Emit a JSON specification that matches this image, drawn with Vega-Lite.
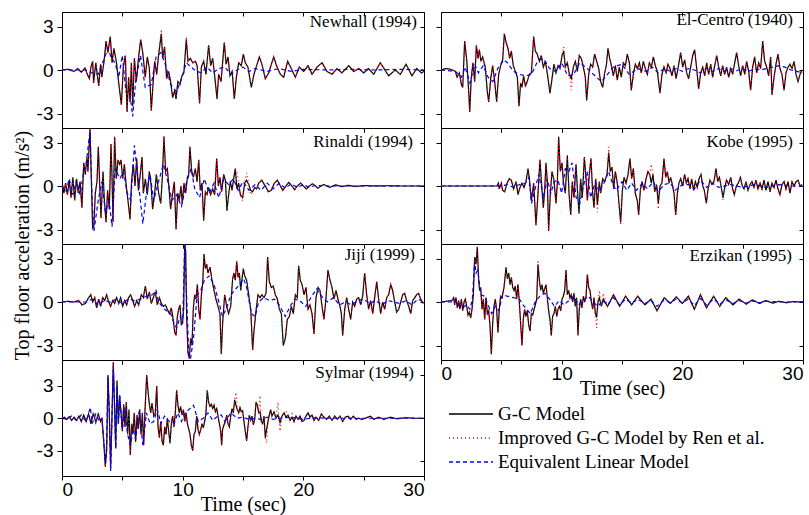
{
"$schema":"https://vega.github.io/schema/vega-lite/v6.json",
"padding":{"left":11,"top":10,"right":0,"bottom":0},
"background":"white",
"bounds":"flush",
"columns":2,
"spacing":{"row":0,"column":17},
"datasets":{
"nh":[{"t":0,"g":0,"r":0},{"t":0.5,"g":0.05,"r":0.05},{"t":1,"g":-0.1,"r":-0.1},{"t":1.3,"g":0.1,"r":0.1},{"t":1.6,"g":-0.15,"r":-0.15},{"t":1.9,"g":0.15,"r":0.15},{"t":2.1,"g":-0.3,"r":-0.3},{"t":2.27,"g":-0.6,"r":-0.6},{"t":2.4,"g":0.2,"r":0.2},{"t":2.54,"g":0.6,"r":0.6},{"t":2.62,"g":-0.9,"r":-0.9},{"t":2.8,"g":0.5,"r":0.5},{"t":3.04,"g":-1.1,"r":-1.1},{"t":3.2,"g":0.4,"r":0.4},{"t":3.3,"g":-0.5,"r":-0.5},{"t":3.5,"g":0.7,"r":0.7},{"t":3.65,"g":2,"r":2},{"t":3.8,"g":1.2,"r":1.2},{"t":4,"g":2.3,"r":2.3},{"t":4.15,"g":0.5,"r":0.5},{"t":4.3,"g":1.5,"r":1.5},{"t":4.5,"g":0.6,"r":0.6},{"t":4.7,"g":-0.9,"r":-0.9},{"t":4.92,"g":-2.4,"r":-2.4},{"t":5.08,"g":0.2,"r":0.2},{"t":5.25,"g":1,"r":1},{"t":5.39,"g":-2.9,"r":-2.9},{"t":5.52,"g":-0.5,"r":-0.5},{"t":5.64,"g":-2.2,"r":-2.2},{"t":5.75,"g":0.5,"r":0.5},{"t":5.86,"g":-2.5,"r":-2.5},{"t":6,"g":0.8,"r":0.8},{"t":6.16,"g":-0.8,"r":-0.8},{"t":6.35,"g":0.9,"r":0.9},{"t":6.52,"g":2.1,"r":2.1},{"t":6.69,"g":1.2,"r":1.2},{"t":6.9,"g":-0.5,"r":-0.5},{"t":7.07,"g":0.9,"r":0.9},{"t":7.24,"g":0.1,"r":0.1},{"t":7.4,"g":-2.8,"r":-2.8},{"t":7.54,"g":-1,"r":-1},{"t":7.68,"g":0.6,"r":0.6},{"t":7.85,"g":-0.3,"r":-0.3},{"t":8,"g":1,"r":1},{"t":8.23,"g":2.5,"r":2.8},{"t":8.34,"g":0.8,"r":0.8},{"t":8.5,"g":1.6,"r":1.6},{"t":8.67,"g":-0.6,"r":-0.6},{"t":8.84,"g":-0.1,"r":-0.1},{"t":9,"g":-0.8,"r":-0.8},{"t":9.17,"g":-1.9,"r":-1.9},{"t":9.34,"g":-1.4,"r":-1.4},{"t":9.45,"g":-2,"r":-2},{"t":9.6,"g":-0.8,"r":-0.8},{"t":9.78,"g":-1,"r":-1},{"t":9.94,"g":-0.4,"r":-0.4},{"t":10.1,"g":-0.2,"r":-0.2},{"t":10.3,"g":2.1,"r":2.3},{"t":10.44,"g":0.6,"r":0.6},{"t":10.64,"g":0.8,"r":0.8},{"t":10.83,"g":0.5,"r":0.5},{"t":11.05,"g":0.6,"r":0.6},{"t":11.2,"g":0.3,"r":0.3},{"t":11.4,"g":-2.3,"r":-2.3},{"t":11.55,"g":0.2,"r":0.2},{"t":11.74,"g":0.6,"r":0.6},{"t":11.93,"g":-0.3,"r":-0.3},{"t":12.15,"g":1.7,"r":1.7},{"t":12.32,"g":0.3,"r":0.3},{"t":12.49,"g":0.8,"r":0.8},{"t":12.65,"g":-0.4,"r":-0.4},{"t":12.85,"g":-2,"r":-2},{"t":12.98,"g":-0.3,"r":-0.3},{"t":13.18,"g":-0.8,"r":-0.8},{"t":13.45,"g":1.9,"r":1.9},{"t":13.6,"g":0.4,"r":0.4},{"t":13.76,"g":0.9,"r":0.9},{"t":13.92,"g":-0.4,"r":-0.4},{"t":14.1,"g":-0.1,"r":-0.1},{"t":14.28,"g":-2,"r":-2},{"t":14.45,"g":-0.5,"r":-0.5},{"t":14.64,"g":0.5,"r":0.5},{"t":14.86,"g":0.3,"r":0.3},{"t":15.03,"g":1.1,"r":1.1},{"t":15.19,"g":0.5,"r":0.5},{"t":15.41,"g":0.2,"r":0.2},{"t":15.69,"g":-1.2,"r":-1.2},{"t":15.91,"g":-0.3,"r":-0.3},{"t":16.13,"g":0.3,"r":0.3},{"t":16.35,"g":0.9,"r":0.9},{"t":16.57,"g":0.4,"r":0.4},{"t":16.85,"g":-0.6,"r":-0.6},{"t":17.13,"g":-0.2,"r":-0.2},{"t":17.54,"g":0.9,"r":0.9},{"t":17.82,"g":0.2,"r":0.2},{"t":18.1,"g":-0.3,"r":-0.3},{"t":18.37,"g":-0.5,"r":-0.5},{"t":18.7,"g":0.6,"r":0.6},{"t":19,"g":0.1,"r":0.1},{"t":19.34,"g":-0.5,"r":-0.5},{"t":19.67,"g":0.2,"r":0.2},{"t":20.03,"g":-0.1,"r":-0.1},{"t":20.39,"g":0.3,"r":0.3},{"t":20.72,"g":-0.3,"r":-0.3},{"t":21.13,"g":0.2,"r":0.2},{"t":21.55,"g":0.5,"r":0.5},{"t":21.96,"g":-0.1,"r":-0.1},{"t":22.38,"g":-0.3,"r":-0.3},{"t":22.79,"g":0.1,"r":0.1},{"t":23.2,"g":-0.2,"r":-0.2},{"t":23.76,"g":0.3,"r":0.3},{"t":24.17,"g":-0.1,"r":-0.1},{"t":24.59,"g":0.1,"r":0.1},{"t":25,"g":-0.2,"r":-0.2},{"t":25.4,"g":0.1,"r":0.1},{"t":25.83,"g":-0.3,"r":-0.3},{"t":26.38,"g":0.5,"r":0.5},{"t":27.07,"g":-0.4,"r":-0.4},{"t":27.62,"g":0,"r":0},{"t":28.04,"g":-0.3,"r":-0.3},{"t":28.51,"g":0.4,"r":0.4},{"t":29,"g":-0.4,"r":-0.4},{"t":29.4,"g":0.1,"r":0.1},{"t":29.78,"g":-0.2,"r":-0.2},{"t":30,"g":-0.1,"r":-0.1},
{"t":0,"e":0},{"t":2,"e":0},{"t":2.5,"e":-0.2},{"t":3,"e":-0.3},{"t":3.5,"e":0.8},{"t":3.8,"e":1.5},{"t":4.1,"e":0.8},{"t":4.4,"e":0.5},{"t":4.7,"e":-0.5},{"t":5,"e":1},{"t":5.3,"e":-1.5},{"t":5.6,"e":-1.5},{"t":5.86,"e":-3.2},{"t":6.1,"e":-0.8},{"t":6.5,"e":1},{"t":6.9,"e":-1.2},{"t":7.4,"e":-1},{"t":7.8,"e":0.9},{"t":8.2,"e":1.2},{"t":8.6,"e":0.3},{"t":9,"e":-1},{"t":9.5,"e":-1.5},{"t":9.9,"e":-0.6},{"t":10.3,"e":0.5},{"t":10.7,"e":0.2},{"t":11,"e":0},{"t":11.5,"e":-0.2},{"t":12,"e":0.2},{"t":12.5,"e":-0.2},{"t":13,"e":0.1},{"t":13.5,"e":0.2},{"t":14,"e":-0.3},{"t":14.5,"e":0},{"t":15,"e":0.2},{"t":15.5,"e":-0.1},{"t":16,"e":0.1},{"t":17,"e":-0.1},{"t":18,"e":0.1},{"t":19,"e":-0.1},{"t":20,"e":0.05},{"t":22,"e":0},{"t":24,"e":0.05},{"t":26,"e":0},{"t":28,"e":0.05},{"t":30,"e":0}],
"ec":[{"t":0,"g":0,"r":0},{"t":0.4,"g":0.1,"r":0.1},{"t":0.8,"g":0.05,"r":0.05},{"t":1.19,"g":-0.1,"r":-0.1},{"t":1.33,"g":-0.5,"r":-0.5},{"t":1.52,"g":-0.2,"r":-0.2},{"t":1.69,"g":-1,"r":-1},{"t":1.8,"g":-1.2,"r":-1.2},{"t":1.96,"g":2,"r":2},{"t":2.13,"g":0.7,"r":0.7},{"t":2.29,"g":-1.4,"r":-1.4},{"t":2.38,"g":-2.9,"r":-2.9},{"t":2.51,"g":-0.5,"r":-0.5},{"t":2.65,"g":0.5,"r":0.5},{"t":2.79,"g":-0.8,"r":-0.8},{"t":2.93,"g":1.7,"r":1.7},{"t":3.07,"g":0.8,"r":0.8},{"t":3.18,"g":1.4,"r":1.4},{"t":3.31,"g":0.6,"r":0.6},{"t":3.45,"g":0.9,"r":0.9},{"t":3.67,"g":0.2,"r":0.2},{"t":3.84,"g":-1.5,"r":-1.5},{"t":3.95,"g":-2.2,"r":-2.2},{"t":4.12,"g":-0.6,"r":-0.6},{"t":4.28,"g":0.3,"r":0.3},{"t":4.45,"g":-0.8,"r":-0.8},{"t":4.61,"g":-2.2,"r":-2.2},{"t":4.78,"g":-0.3,"r":-0.3},{"t":4.94,"g":0.3,"r":0.3},{"t":5.11,"g":0.7,"r":0.7},{"t":5.25,"g":2.5,"r":2.5},{"t":5.39,"g":1.9,"r":1.9},{"t":5.55,"g":1.5,"r":1.5},{"t":5.69,"g":0.8,"r":0.8},{"t":5.83,"g":1.3,"r":1.3},{"t":5.99,"g":0.3,"r":0.3},{"t":6.16,"g":-0.1,"r":-0.1},{"t":6.33,"g":-0.5,"r":-0.5},{"t":6.46,"g":-2.5,"r":-2.5},{"t":6.6,"g":-0.9,"r":-0.9},{"t":6.71,"g":-1.2,"r":-1.2},{"t":6.85,"g":-0.4,"r":-0.4},{"t":6.99,"g":-1.1,"r":-1.1},{"t":7.15,"g":-0.8,"r":-0.8},{"t":7.32,"g":-0.3,"r":-0.3},{"t":7.49,"g":-0.2,"r":-0.2},{"t":7.68,"g":2.3,"r":2.3},{"t":7.82,"g":1.3,"r":1.3},{"t":7.98,"g":1.1,"r":1.1},{"t":8.15,"g":0.6,"r":0.6},{"t":8.31,"g":1,"r":1},{"t":8.48,"g":0.2,"r":0.2},{"t":8.65,"g":0.6,"r":0.6},{"t":8.84,"g":-0.4,"r":-0.4},{"t":9.03,"g":-1.6,"r":-1.6},{"t":9.2,"g":-0.6,"r":-0.6},{"t":9.36,"g":0.4,"r":0.4},{"t":9.53,"g":-0.2,"r":-0.2},{"t":9.7,"g":0.3,"r":0.3},{"t":9.86,"g":0.1,"r":0.1},{"t":10.03,"g":1,"r":1},{"t":10.17,"g":1.3,"r":1.6},{"t":10.3,"g":0.2,"r":0.2},{"t":10.47,"g":0.5,"r":0.5},{"t":10.64,"g":-0.3,"r":-0.3},{"t":10.8,"g":-0.6,"r":-1.4},{"t":10.97,"g":0.2,"r":0.2},{"t":11.13,"g":0.6,"r":0.6},{"t":11.3,"g":-0.1,"r":-0.1},{"t":11.46,"g":1,"r":1},{"t":11.63,"g":0.8,"r":0.8},{"t":11.8,"g":0.2,"r":0.2},{"t":11.96,"g":-0.5,"r":-0.5},{"t":12.07,"g":-2.1,"r":-2.1},{"t":12.24,"g":-0.3,"r":-0.3},{"t":12.4,"g":0.4,"r":0.4},{"t":12.57,"g":0.2,"r":0.2},{"t":12.73,"g":1.1,"r":1.1},{"t":12.9,"g":0.6,"r":0.6},{"t":13.07,"g":0.1,"r":0.1},{"t":13.23,"g":-0.8,"r":-0.8},{"t":13.4,"g":-1.2,"r":-1.2},{"t":13.56,"g":-0.2,"r":-0.2},{"t":13.7,"g":0.3,"r":0.3},{"t":13.84,"g":1.5,"r":1.5},{"t":13.98,"g":0.8,"r":0.8},{"t":14.12,"g":0.3,"r":0.3},{"t":14.28,"g":-0.4,"r":-0.4},{"t":14.45,"g":0.3,"r":0.3},{"t":14.61,"g":-0.7,"r":-0.7},{"t":14.78,"g":0.2,"r":0.2},{"t":14.94,"g":-0.5,"r":-0.5},{"t":15.11,"g":0.5,"r":0.5},{"t":15.28,"g":0.3,"r":0.3},{"t":15.44,"g":1.1,"r":1.1},{"t":15.61,"g":0.5,"r":0.5},{"t":15.77,"g":-1.4,"r":-1.4},{"t":15.94,"g":-0.3,"r":-0.3},{"t":16.1,"g":0.4,"r":0.4},{"t":16.27,"g":0.1,"r":0.1},{"t":16.44,"g":0.5,"r":0.5},{"t":16.6,"g":-0.2,"r":-0.2},{"t":16.77,"g":0.6,"r":0.6},{"t":16.93,"g":0.1,"r":0.1},{"t":17.1,"g":-0.3,"r":-0.3},{"t":17.27,"g":0.5,"r":0.5},{"t":17.43,"g":0.2,"r":0.2},{"t":17.6,"g":0.9,"r":0.9},{"t":17.76,"g":0.3,"r":0.3},{"t":17.93,"g":-0.1,"r":-0.1},{"t":18.15,"g":-1.6,"r":-1.6},{"t":18.31,"g":-0.3,"r":-0.3},{"t":18.48,"g":0.2,"r":0.2},{"t":18.65,"g":-0.2,"r":-0.2},{"t":18.81,"g":0.4,"r":0.4},{"t":18.98,"g":0.1,"r":0.1},{"t":19.14,"g":-0.4,"r":-0.4},{"t":19.31,"g":0.3,"r":0.3},{"t":19.48,"g":-0.6,"r":-0.6},{"t":19.64,"g":0.1,"r":0.1},{"t":19.86,"g":1.2,"r":1.2},{"t":20.03,"g":0.2,"r":0.2},{"t":20.19,"g":0.7,"r":0.7},{"t":20.36,"g":-0.2,"r":-0.2},{"t":20.52,"g":-0.6,"r":-0.6},{"t":20.69,"g":0.2,"r":0.2},{"t":20.86,"g":1,"r":1},{"t":21.02,"g":1.4,"r":1.4},{"t":21.19,"g":0.1,"r":0.1},{"t":21.35,"g":-1.3,"r":-1.3},{"t":21.52,"g":-0.2,"r":-0.2},{"t":21.69,"g":0.2,"r":0.2},{"t":21.85,"g":-0.4,"r":-0.4},{"t":22.02,"g":0.5,"r":0.5},{"t":22.18,"g":-0.3,"r":-0.3},{"t":22.35,"g":0.4,"r":0.4},{"t":22.51,"g":-0.5,"r":-0.5},{"t":22.68,"g":0.3,"r":0.3},{"t":22.85,"g":1,"r":1},{"t":23.01,"g":0.2,"r":0.2},{"t":23.18,"g":-0.4,"r":-0.4},{"t":23.34,"g":0.3,"r":0.3},{"t":23.51,"g":-0.3,"r":-0.3},{"t":23.67,"g":0.2,"r":0.2},{"t":23.84,"g":-0.5,"r":-0.5},{"t":24.01,"g":0.1,"r":0.1},{"t":24.17,"g":-0.3,"r":-0.3},{"t":24.34,"g":0.5,"r":0.5},{"t":24.5,"g":1.2,"r":1.2},{"t":24.67,"g":0.3,"r":0.3},{"t":24.83,"g":-0.4,"r":-0.4},{"t":25,"g":0.3,"r":0.3},{"t":25.17,"g":-0.3,"r":-0.3},{"t":25.33,"g":0.6,"r":0.6},{"t":25.5,"g":-0.1,"r":-0.1},{"t":25.66,"g":-1.4,"r":-1.4},{"t":25.83,"g":0.2,"r":0.2},{"t":25.99,"g":0.9,"r":0.9},{"t":26.16,"g":-0.2,"r":-0.2},{"t":26.33,"g":0.5,"r":0.5},{"t":26.49,"g":0.1,"r":0.1},{"t":26.66,"g":2,"r":2},{"t":26.82,"g":0.6,"r":0.6},{"t":26.99,"g":0.2,"r":0.2},{"t":27.15,"g":-0.4,"r":-0.4},{"t":27.32,"g":0.9,"r":0.9},{"t":27.43,"g":-1.7,"r":-1.7},{"t":27.6,"g":-0.5,"r":-0.5},{"t":27.76,"g":0.4,"r":0.4},{"t":27.93,"g":1.1,"r":1.1},{"t":28.09,"g":0.1,"r":0.1},{"t":28.26,"g":-0.3,"r":-0.3},{"t":28.43,"g":-1.4,"r":-1.4},{"t":28.59,"g":-0.2,"r":-0.2},{"t":28.76,"g":0.2,"r":0.2},{"t":28.92,"g":0.4,"r":0.4},{"t":29.09,"g":0.1,"r":0.1},{"t":29.26,"g":0.6,"r":0.6},{"t":29.42,"g":-0.3,"r":-0.3},{"t":29.59,"g":-0.8,"r":-0.8},{"t":29.75,"g":-0.3,"r":-0.3},{"t":29.92,"g":0,"r":0},
{"t":0,"e":0},{"t":1.2,"e":-0.1},{"t":1.7,"e":-0.5},{"t":2,"e":0.2},{"t":2.4,"e":-0.9},{"t":2.8,"e":0.4},{"t":3.1,"e":-0.2},{"t":3.5,"e":0.3},{"t":3.9,"e":-0.5},{"t":4.3,"e":-0.8},{"t":4.7,"e":0.1},{"t":5.2,"e":0.7},{"t":5.5,"e":0.5},{"t":6,"e":-0.1},{"t":6.5,"e":-0.3},{"t":7,"e":-0.4},{"t":7.5,"e":-0.3},{"t":8,"e":0.6},{"t":8.5,"e":0.8},{"t":9,"e":0.1},{"t":9.5,"e":-0.1},{"t":10,"e":0.5},{"t":10.5,"e":-0.4},{"t":11,"e":-0.3},{"t":11.5,"e":0.5},{"t":12,"e":0.2},{"t":12.5,"e":-0.2},{"t":13.3,"e":-0.8},{"t":13.8,"e":-0.3},{"t":14.3,"e":0.2},{"t":15,"e":0.4},{"t":15.6,"e":-0.3},{"t":16.3,"e":0.1},{"t":17,"e":-0.1},{"t":17.5,"e":0.2},{"t":18,"e":-0.2},{"t":18.5,"e":0.1},{"t":19,"e":-0.1},{"t":19.5,"e":0.1},{"t":20,"e":-0.1},{"t":20.5,"e":0.1},{"t":21,"e":0},{"t":21.5,"e":-0.2},{"t":22,"e":0.1},{"t":22.5,"e":-0.1},{"t":23,"e":0.1},{"t":23.5,"e":-0.1},{"t":24,"e":0.1},{"t":24.5,"e":-0.05},{"t":25,"e":0.1},{"t":25.5,"e":-0.1},{"t":26,"e":0.1},{"t":26.5,"e":0},{"t":27,"e":0.1},{"t":27.5,"e":0.2},{"t":28,"e":0.3},{"t":28.5,"e":0.2},{"t":29,"e":0},{"t":29.5,"e":-0.1},{"t":30,"e":-0.2}],
"ri":[{"t":0,"g":0.3,"r":0.3},{"t":0.15,"g":-0.5,"r":-0.5},{"t":0.3,"g":0.2,"r":0.2},{"t":0.45,"g":-0.6,"r":-0.6},{"t":0.6,"g":0.4,"r":0.4},{"t":0.75,"g":-0.8,"r":-0.8},{"t":0.9,"g":0.6,"r":0.6},{"t":1.05,"g":-1,"r":-1},{"t":1.2,"g":0.5,"r":0.5},{"t":1.35,"g":-0.5,"r":-0.5},{"t":1.5,"g":0.3,"r":0.3},{"t":1.65,"g":-1.5,"r":-1.5},{"t":1.8,"g":1.6,"r":1.6},{"t":1.93,"g":0.8,"r":0.8},{"t":2.07,"g":2,"r":2},{"t":2.15,"g":1,"r":1},{"t":2.32,"g":4,"r":4},{"t":2.43,"g":0.5,"r":0.5},{"t":2.54,"g":-3,"r":-3},{"t":2.65,"g":-2.6,"r":-2.6},{"t":2.76,"g":-0.5,"r":-0.5},{"t":2.9,"g":0.3,"r":0.3},{"t":3.01,"g":2.7,"r":2.7},{"t":3.15,"g":-0.5,"r":-0.5},{"t":3.23,"g":-2.2,"r":-2.2},{"t":3.4,"g":1,"r":1},{"t":3.51,"g":-1,"r":-1},{"t":3.65,"g":-2.5,"r":-2.5},{"t":3.78,"g":-0.3,"r":-0.3},{"t":3.92,"g":-1.6,"r":-1.6},{"t":4.06,"g":2.9,"r":2.9},{"t":4.14,"g":0.8,"r":0.8},{"t":4.23,"g":-2.5,"r":-2.5},{"t":4.36,"g":3.4,"r":3.4},{"t":4.5,"g":0.5,"r":0.5},{"t":4.64,"g":1.8,"r":1.8},{"t":4.78,"g":1.5,"r":1.5},{"t":4.89,"g":1.8,"r":1.8},{"t":5.03,"g":0.5,"r":0.5},{"t":5.17,"g":1.5,"r":1.5},{"t":5.3,"g":0.2,"r":0.2},{"t":5.44,"g":-0.8,"r":-0.8},{"t":5.64,"g":-2.3,"r":-2.3},{"t":5.77,"g":0.4,"r":0.4},{"t":5.91,"g":1.5,"r":1.5},{"t":6.05,"g":0,"r":0},{"t":6.19,"g":1.9,"r":1.9},{"t":6.33,"g":-0.3,"r":-0.3},{"t":6.46,"g":0.6,"r":0.6},{"t":6.63,"g":2,"r":2},{"t":6.74,"g":-0.5,"r":-0.5},{"t":6.91,"g":0.5,"r":0.5},{"t":7.07,"g":-0.6,"r":-0.6},{"t":7.24,"g":1,"r":1},{"t":7.38,"g":0.1,"r":0.1},{"t":7.51,"g":-1.6,"r":-1.6},{"t":7.68,"g":-0.5,"r":-0.5},{"t":7.82,"g":0.8,"r":0.8},{"t":8.01,"g":-0.5,"r":-0.5},{"t":8.18,"g":-1.2,"r":-1.2},{"t":8.31,"g":0.5,"r":0.5},{"t":8.45,"g":3.4,"r":3.5},{"t":8.59,"g":1,"r":1},{"t":8.73,"g":1.2,"r":1.2},{"t":8.9,"g":-0.5,"r":-0.5},{"t":9,"g":-1.6,"r":-1.6},{"t":9.17,"g":-0.5,"r":-0.5},{"t":9.31,"g":0.3,"r":0.3},{"t":9.45,"g":-3,"r":-3},{"t":9.59,"g":-0.5,"r":-0.5},{"t":9.72,"g":-1,"r":-1},{"t":9.86,"g":0,"r":0},{"t":9.97,"g":-1.2,"r":-1.2},{"t":10.11,"g":0.2,"r":0.2},{"t":10.25,"g":-0.5,"r":-0.5},{"t":10.39,"g":0.6,"r":0.6},{"t":10.5,"g":0.8,"r":0.8},{"t":10.6,"g":2.7,"r":2.7},{"t":10.75,"g":1,"r":1},{"t":10.88,"g":0.6,"r":0.6},{"t":11.05,"g":1.2,"r":1.2},{"t":11.19,"g":0.3,"r":0.3},{"t":11.33,"g":1.8,"r":1.8},{"t":11.46,"g":-0.3,"r":-0.3},{"t":11.6,"g":0.2,"r":0.2},{"t":11.74,"g":-2.4,"r":-2.4},{"t":11.88,"g":-0.4,"r":-0.4},{"t":12.02,"g":-0.6,"r":-0.6},{"t":12.15,"g":-0.1,"r":-0.1},{"t":12.32,"g":-0.6,"r":-0.6},{"t":12.49,"g":-0.2,"r":-0.2},{"t":12.65,"g":-0.6,"r":-0.6},{"t":12.82,"g":1.9,"r":1.9},{"t":12.96,"g":0,"r":0},{"t":13.09,"g":0.6,"r":0.6},{"t":13.23,"g":-0.4,"r":-0.4},{"t":13.4,"g":0.8,"r":0.8},{"t":13.54,"g":0.4,"r":0.4},{"t":13.67,"g":-1.7,"r":-1.7},{"t":13.81,"g":-0.6,"r":-0.6},{"t":13.95,"g":0.3,"r":0.3},{"t":14.09,"g":-0.3,"r":-0.3},{"t":14.23,"g":0.5,"r":0.5},{"t":14.36,"g":1.2,"r":1.2},{"t":14.5,"g":-0.2,"r":1},{"t":14.64,"g":0.2,"r":0.2},{"t":14.78,"g":-0.6,"r":-0.6},{"t":14.97,"g":-0.8,"r":-1},{"t":15.14,"g":0.2,"r":0.2},{"t":15.3,"g":0.4,"r":0.9},{"t":15.47,"g":0.1,"r":0.1},{"t":15.64,"g":-0.3,"r":-0.6},{"t":15.8,"g":-0.4,"r":-0.4},{"t":15.97,"g":-0.1,"r":-0.1},{"t":16.13,"g":-0.2,"r":-0.2},{"t":16.3,"g":0.2,"r":0.2},{"t":16.55,"g":0.4,"r":0.4},{"t":16.85,"g":0,"r":0},{"t":17.1,"g":-0.4,"r":-0.4},{"t":17.35,"g":-0.3,"r":-0.3},{"t":17.6,"g":0.2,"r":0.2},{"t":17.85,"g":0.4,"r":0.4},{"t":18.1,"g":0,"r":0},{"t":18.3,"g":-0.3,"r":-0.3},{"t":18.55,"g":0,"r":0},{"t":18.8,"g":0.25,"r":0.25},{"t":19.05,"g":0,"r":0},{"t":19.28,"g":-0.25,"r":-0.25},{"t":19.5,"g":0,"r":0},{"t":19.78,"g":0.2,"r":0.2},{"t":20,"g":0,"r":0},{"t":20.25,"g":-0.2,"r":-0.2},{"t":20.5,"g":0,"r":0},{"t":20.75,"g":0.15,"r":0.15},{"t":21,"g":0,"r":0},{"t":21.2,"g":-0.15,"r":-0.15},{"t":21.45,"g":0,"r":0},{"t":21.7,"g":0.1,"r":0.1},{"t":21.95,"g":0,"r":0},{"t":22.2,"g":-0.1,"r":-0.1},{"t":22.65,"g":0.08,"r":0.08},{"t":23.2,"g":-0.05,"r":-0.05},{"t":23.76,"g":0.05,"r":0.05},{"t":24.3,"g":-0.04,"r":-0.04},{"t":25,"g":0.03,"r":0.03},{"t":26,"g":0,"r":0},{"t":27,"g":0.02,"r":0.02},{"t":28,"g":0,"r":0},{"t":30,"g":0,"r":0},
{"t":0,"e":0},{"t":0.3,"e":-0.4},{"t":0.6,"e":0.5},{"t":0.9,"e":-0.6},{"t":1.2,"e":0.4},{"t":1.5,"e":-0.6},{"t":1.8,"e":1},{"t":2,"e":1.5},{"t":2.32,"e":3.8},{"t":2.5,"e":-1},{"t":2.65,"e":-3.1},{"t":3,"e":-1},{"t":3.3,"e":0.3},{"t":3.6,"e":-1.8},{"t":3.9,"e":-1},{"t":4.15,"e":-2.8},{"t":4.4,"e":1.2},{"t":4.8,"e":0.5},{"t":5.1,"e":1},{"t":5.4,"e":-0.5},{"t":5.7,"e":-1},{"t":6,"e":2.8},{"t":6.3,"e":0.5},{"t":6.7,"e":-2.6},{"t":7,"e":-0.5},{"t":7.3,"e":0.8},{"t":7.6,"e":-1},{"t":8,"e":0.3},{"t":8.4,"e":1.5},{"t":8.8,"e":0.2},{"t":9.1,"e":-1},{"t":9.5,"e":-0.6},{"t":9.9,"e":-1.4},{"t":10.3,"e":0.2},{"t":10.7,"e":1.2},{"t":11,"e":-0.2},{"t":11.4,"e":-0.8},{"t":11.8,"e":0.5},{"t":12.2,"e":-0.5},{"t":12.6,"e":0.2},{"t":13,"e":-0.8},{"t":13.4,"e":0.5},{"t":13.8,"e":0.1},{"t":14.2,"e":0.5},{"t":14.6,"e":-0.3},{"t":15,"e":0.3},{"t":15.5,"e":-0.3},{"t":16,"e":0.1},{"t":16.5,"e":-0.3},{"t":17,"e":0.2},{"t":17.5,"e":-0.2},{"t":18,"e":0.2},{"t":18.5,"e":-0.15},{"t":19,"e":0.15},{"t":19.5,"e":-0.1},{"t":20,"e":0.1},{"t":20.5,"e":-0.1},{"t":21,"e":0.05},{"t":22,"e":0},{"t":30,"e":0}],
"ko":[{"t":0,"g":0,"r":0},{"t":4.64,"g":0,"r":0},{"t":4.75,"g":0.2,"r":0.2},{"t":4.83,"g":-0.2,"r":-0.2},{"t":5,"g":0.2,"r":0.2},{"t":5.11,"g":-0.3,"r":-0.3},{"t":5.28,"g":-0.4,"r":-0.4},{"t":5.47,"g":0.2,"r":0.2},{"t":5.66,"g":0.5,"r":0.5},{"t":5.83,"g":0.4,"r":0.4},{"t":6.02,"g":-0.2,"r":-0.2},{"t":6.22,"g":0.3,"r":0.3},{"t":6.38,"g":-0.6,"r":-0.6},{"t":6.55,"g":-0.1,"r":-0.1},{"t":6.71,"g":0.2,"r":0.2},{"t":6.88,"g":-0.1,"r":-0.1},{"t":7.04,"g":0.3,"r":0.3},{"t":7.21,"g":1.2,"r":1.2},{"t":7.32,"g":0.5,"r":0.5},{"t":7.49,"g":-1,"r":-1},{"t":7.68,"g":0.2,"r":0.2},{"t":7.87,"g":-2.7,"r":-2.7},{"t":8.04,"g":-0.5,"r":-0.5},{"t":8.2,"g":1.8,"r":1.8},{"t":8.34,"g":0.1,"r":0.1},{"t":8.48,"g":-1.5,"r":-1.5},{"t":8.59,"g":-0.3,"r":-0.3},{"t":8.7,"g":1.6,"r":1.6},{"t":8.81,"g":0.3,"r":0.3},{"t":8.92,"g":-3.1,"r":-3.1},{"t":9.06,"g":-0.5,"r":-0.5},{"t":9.2,"g":1,"r":1},{"t":9.36,"g":0.4,"r":0.4},{"t":9.53,"g":-1.2,"r":-1.2},{"t":9.64,"g":0.2,"r":0.2},{"t":9.75,"g":3.4,"r":3.4},{"t":9.89,"g":1,"r":1},{"t":10.03,"g":1.6,"r":1.6},{"t":10.14,"g":0.3,"r":0.3},{"t":10.3,"g":-0.5,"r":-0.5},{"t":10.47,"g":2.1,"r":2.1},{"t":10.61,"g":-0.5,"r":-0.5},{"t":10.75,"g":-2,"r":-2},{"t":10.88,"g":0.3,"r":0.3},{"t":11.02,"g":-0.8,"r":-0.8},{"t":11.19,"g":1.5,"r":1.5},{"t":11.3,"g":-0.2,"r":-0.2},{"t":11.44,"g":-1.9,"r":-1.9},{"t":11.57,"g":0.5,"r":0.5},{"t":11.71,"g":-0.8,"r":-0.8},{"t":11.88,"g":2,"r":2},{"t":12.02,"g":0.5,"r":0.5},{"t":12.13,"g":-1,"r":-1},{"t":12.29,"g":0.8,"r":0.8},{"t":12.43,"g":1.9,"r":1.9},{"t":12.57,"g":-0.5,"r":-0.5},{"t":12.68,"g":-1.5,"r":-1.5},{"t":12.82,"g":0.5,"r":0.5},{"t":12.96,"g":-1.3,"r":-1.8},{"t":13.12,"g":0.3,"r":0.3},{"t":13.23,"g":-0.5,"r":-0.5},{"t":13.4,"g":0.5,"r":0.5},{"t":13.56,"g":0.3,"r":0.3},{"t":13.76,"g":0.8,"r":0.8},{"t":13.9,"g":2.3,"r":2.7},{"t":14.03,"g":1,"r":1},{"t":14.17,"g":1.3,"r":1.3},{"t":14.31,"g":-0.2,"r":-0.2},{"t":14.45,"g":1,"r":1},{"t":14.61,"g":0.2,"r":0.2},{"t":14.75,"g":-1.2,"r":-1.2},{"t":14.89,"g":-2.5,"r":-2.7},{"t":15.03,"g":-0.3,"r":-0.3},{"t":15.17,"g":0.6,"r":0.6},{"t":15.33,"g":0.2,"r":0.2},{"t":15.5,"g":0.8,"r":0.8},{"t":15.66,"g":1.9,"r":1.9},{"t":15.8,"g":0.5,"r":0.5},{"t":15.94,"g":1.2,"r":1.2},{"t":16.1,"g":-0.5,"r":-0.5},{"t":16.27,"g":-1,"r":-1},{"t":16.38,"g":-2,"r":-2},{"t":16.52,"g":-0.3,"r":-0.3},{"t":16.66,"g":0.3,"r":0.3},{"t":16.82,"g":-0.3,"r":-0.3},{"t":16.99,"g":0.5,"r":0.5},{"t":17.15,"g":1,"r":1},{"t":17.29,"g":0.8,"r":0.8},{"t":17.43,"g":0.2,"r":1.5},{"t":17.57,"g":0.8,"r":0.8},{"t":17.71,"g":-0.4,"r":-0.4},{"t":17.87,"g":0.1,"r":0.1},{"t":18.01,"g":-1.2,"r":-1.6},{"t":18.15,"g":0,"r":0},{"t":18.31,"g":0.2,"r":0.2},{"t":18.48,"g":1.9,"r":1.9},{"t":18.62,"g":0.6,"r":0.6},{"t":18.76,"g":1,"r":1},{"t":18.9,"g":0.2,"r":0.2},{"t":19.03,"g":0.6,"r":0.6},{"t":19.2,"g":0,"r":0},{"t":19.31,"g":-0.5,"r":-0.5},{"t":19.45,"g":-2,"r":-2},{"t":19.59,"g":-0.5,"r":-0.5},{"t":19.72,"g":0.2,"r":0.2},{"t":19.86,"g":0.5,"r":0.5},{"t":20.03,"g":0,"r":0},{"t":20.19,"g":0.8,"r":0.8},{"t":20.33,"g":0.2,"r":0.2},{"t":20.47,"g":0.5,"r":0.5},{"t":20.64,"g":-0.2,"r":-0.2},{"t":20.77,"g":0.5,"r":0.5},{"t":20.94,"g":-0.3,"r":-0.3},{"t":21.08,"g":0.3,"r":0.3},{"t":21.24,"g":-0.1,"r":-0.1},{"t":21.38,"g":0.5,"r":0.5},{"t":21.55,"g":0.8,"r":0.8},{"t":21.69,"g":0,"r":0},{"t":21.82,"g":-0.3,"r":-0.3},{"t":21.99,"g":-1.2,"r":-1.2},{"t":22.13,"g":-0.2,"r":-0.2},{"t":22.29,"g":0.4,"r":0.4},{"t":22.46,"g":0.1,"r":0.1},{"t":22.62,"g":0.3,"r":0.3},{"t":22.79,"g":1.2,"r":1.2},{"t":22.93,"g":0.3,"r":0.3},{"t":23.07,"g":0.6,"r":0.6},{"t":23.23,"g":-0.1,"r":-0.1},{"t":23.37,"g":-0.8,"r":-1},{"t":23.54,"g":0,"r":0},{"t":23.67,"g":0.4,"r":0.4},{"t":23.84,"g":0.1,"r":0.1},{"t":24.01,"g":0.6,"r":0.6},{"t":24.17,"g":-0.2,"r":-0.2},{"t":24.31,"g":-0.6,"r":-0.6},{"t":24.48,"g":0,"r":0},{"t":24.64,"g":0.2,"r":0.2},{"t":24.81,"g":0.6,"r":0.6},{"t":24.97,"g":0,"r":0},{"t":25.11,"g":-0.2,"r":-0.2},{"t":25.28,"g":0.3,"r":0.3},{"t":25.44,"g":-0.3,"r":-0.3},{"t":25.61,"g":0.1,"r":0.1},{"t":25.77,"g":0.3,"r":0.3},{"t":25.94,"g":-0.1,"r":-0.1},{"t":26.1,"g":0.4,"r":0.4},{"t":26.27,"g":-0.2,"r":-0.2},{"t":26.44,"g":0.2,"r":0.2},{"t":26.6,"g":-0.2,"r":-0.2},{"t":26.77,"g":0.4,"r":0.4},{"t":26.93,"g":-0.3,"r":-0.3},{"t":27.1,"g":0.3,"r":0.3},{"t":27.27,"g":-0.4,"r":-0.4},{"t":27.43,"g":0.2,"r":0.2},{"t":27.6,"g":-0.1,"r":-0.1},{"t":27.76,"g":0.4,"r":0.4},{"t":27.93,"g":-0.2,"r":-0.2},{"t":28.09,"g":-0.6,"r":-0.6},{"t":28.26,"g":0.1,"r":0.1},{"t":28.43,"g":0.3,"r":0.3},{"t":28.59,"g":-0.2,"r":-0.2},{"t":28.76,"g":0.3,"r":0.3},{"t":28.92,"g":-0.5,"r":-0.5},{"t":29.09,"g":0.3,"r":0.3},{"t":29.26,"g":0,"r":0},{"t":29.42,"g":0.3,"r":0.3},{"t":29.59,"g":0.4,"r":0.4},{"t":29.75,"g":0,"r":0},{"t":29.92,"g":0.1,"r":0.1},
{"t":0,"e":0},{"t":5,"e":0},{"t":5.5,"e":0.1},{"t":6,"e":-0.1},{"t":6.5,"e":0.1},{"t":7,"e":0.2},{"t":7.3,"e":0.6},{"t":7.5,"e":-1.2},{"t":7.8,"e":-0.2},{"t":8.1,"e":0.8},{"t":8.5,"e":-0.8},{"t":8.8,"e":0.5},{"t":9.1,"e":-0.5},{"t":9.4,"e":0.3},{"t":9.7,"e":0.4},{"t":10,"e":-0.5},{"t":10.3,"e":1.2},{"t":10.6,"e":1},{"t":10.86,"e":1.6},{"t":11.2,"e":-0.8},{"t":11.5,"e":-1.2},{"t":11.8,"e":0},{"t":12.1,"e":1},{"t":12.4,"e":-0.8},{"t":12.8,"e":0.3},{"t":13.1,"e":-0.4},{"t":13.5,"e":0.2},{"t":13.9,"e":1},{"t":14.2,"e":0.2},{"t":14.5,"e":-0.3},{"t":15,"e":0.3},{"t":15.4,"e":-0.3},{"t":15.8,"e":0.2},{"t":16.2,"e":-0.3},{"t":16.7,"e":0.2},{"t":17.1,"e":-0.2},{"t":17.6,"e":0.3},{"t":18,"e":-0.4},{"t":18.5,"e":0.1},{"t":19,"e":0.2},{"t":19.4,"e":-0.3},{"t":20,"e":0.1},{"t":20.5,"e":0.1},{"t":21,"e":-0.2},{"t":21.5,"e":0.4},{"t":22,"e":-0.1},{"t":22.5,"e":0.2},{"t":23,"e":-0.1},{"t":24,"e":0.1},{"t":25,"e":-0.1},{"t":26,"e":0.1},{"t":27,"e":-0.1},{"t":28,"e":0.1},{"t":29,"e":0},{"t":30,"e":0}],
"ji":[{"t":0,"g":0,"r":0},{"t":0.5,"g":0.05,"r":0.05},{"t":1,"g":0,"r":0},{"t":1.38,"g":0.1,"r":0.1},{"t":1.66,"g":-0.2,"r":-0.2},{"t":1.93,"g":-0.1,"r":-0.1},{"t":2.21,"g":0.3,"r":0.3},{"t":2.38,"g":0.5,"r":0.5},{"t":2.54,"g":0,"r":0},{"t":2.71,"g":0.3,"r":0.3},{"t":2.87,"g":-0.4,"r":-0.4},{"t":3.04,"g":0.2,"r":0.2},{"t":3.2,"g":-0.3,"r":-0.3},{"t":3.37,"g":0.3,"r":0.3},{"t":3.54,"g":0.1,"r":0.1},{"t":3.7,"g":0.5,"r":0.5},{"t":3.87,"g":0,"r":0},{"t":4.03,"g":-0.3,"r":-0.3},{"t":4.2,"g":0.1,"r":0.1},{"t":4.36,"g":-0.1,"r":-0.1},{"t":4.53,"g":0.3,"r":0.3},{"t":4.7,"g":-0.1,"r":-0.1},{"t":4.86,"g":0.3,"r":0.3},{"t":5.03,"g":-0.3,"r":-0.3},{"t":5.19,"g":0.1,"r":0.1},{"t":5.36,"g":-0.2,"r":-0.2},{"t":5.52,"g":0.3,"r":0.3},{"t":5.69,"g":0.5,"r":0.5},{"t":5.86,"g":0.1,"r":0.1},{"t":6.02,"g":-0.3,"r":-0.3},{"t":6.19,"g":0.1,"r":0.1},{"t":6.35,"g":-0.2,"r":-0.2},{"t":6.57,"g":0.5,"r":0.5},{"t":6.74,"g":0.3,"r":0.3},{"t":6.91,"g":1.1,"r":1.1},{"t":7.07,"g":0.2,"r":0.2},{"t":7.24,"g":0.7,"r":0.7},{"t":7.4,"g":-0.1,"r":-0.1},{"t":7.57,"g":0.3,"r":0.3},{"t":7.73,"g":0.7,"r":0.7},{"t":7.9,"g":-0.2,"r":-0.2},{"t":8.07,"g":0.3,"r":0.3},{"t":8.23,"g":-0.1,"r":-0.1},{"t":8.4,"g":-0.3,"r":-0.3},{"t":8.56,"g":-0.2,"r":-0.2},{"t":8.73,"g":-0.5,"r":-0.5},{"t":8.9,"g":-0.8,"r":-0.8},{"t":9.06,"g":-0.4,"r":-0.4},{"t":9.23,"g":-1.3,"r":-1.3},{"t":9.34,"g":-2.1,"r":-2.1},{"t":9.45,"g":-2.3,"r":-2.3},{"t":9.56,"g":-1,"r":-1},{"t":9.67,"g":-0.5,"r":-0.5},{"t":9.78,"g":-0.2,"r":-0.2},{"t":9.89,"g":-1.6,"r":-1.6},{"t":10,"g":-1.3,"r":-1.3},{"t":10.08,"g":-0.5,"r":-0.5},{"t":10.17,"g":4,"r":4},{"t":10.25,"g":3.5,"r":3.5},{"t":10.33,"g":-1,"r":-1},{"t":10.44,"g":-3.5,"r":-3.5},{"t":10.55,"g":-3.9,"r":-3.9},{"t":10.66,"g":-2.5,"r":-2.5},{"t":10.77,"g":-3,"r":-3},{"t":10.88,"g":-0.5,"r":-0.5},{"t":10.99,"g":0.5,"r":0.5},{"t":11.1,"g":0.2,"r":0.2},{"t":11.22,"g":1.2,"r":1.2},{"t":11.33,"g":-0.5,"r":-0.5},{"t":11.44,"g":-1.2,"r":-1.2},{"t":11.55,"g":0.5,"r":0.5},{"t":11.66,"g":1.3,"r":1.3},{"t":11.77,"g":3.3,"r":3.3},{"t":11.88,"g":2.3,"r":2.3},{"t":11.99,"g":2.6,"r":2.6},{"t":12.1,"g":2,"r":2},{"t":12.27,"g":2.4,"r":2.4},{"t":12.43,"g":1.5,"r":1.5},{"t":12.6,"g":0.8,"r":0.8},{"t":12.76,"g":0.2,"r":0.2},{"t":12.93,"g":-0.3,"r":-0.3},{"t":13.09,"g":-0.8,"r":-0.8},{"t":13.2,"g":-3.6,"r":-3.6},{"t":13.31,"g":-1.5,"r":-1.5},{"t":13.48,"g":0.5,"r":0.5},{"t":13.65,"g":-0.3,"r":-0.3},{"t":13.81,"g":-0.8,"r":-0.8},{"t":13.98,"g":-0.3,"r":-0.3},{"t":14.14,"g":1.6,"r":1.6},{"t":14.25,"g":2,"r":2},{"t":14.36,"g":1.5,"r":1.5},{"t":14.48,"g":2.8,"r":2.8},{"t":14.59,"g":1.7,"r":1.7},{"t":14.7,"g":2,"r":2},{"t":14.81,"g":0.8,"r":0.8},{"t":14.92,"g":1.6,"r":1.6},{"t":15.03,"g":2.3,"r":2.3},{"t":15.14,"g":1.8,"r":1.8},{"t":15.3,"g":1.5,"r":1.5},{"t":15.47,"g":0.5,"r":0.5},{"t":15.64,"g":-0.5,"r":-0.5},{"t":15.8,"g":-3.3,"r":-3.3},{"t":15.91,"g":-2,"r":-2},{"t":16.08,"g":-0.6,"r":-0.6},{"t":16.24,"g":0.5,"r":0.5},{"t":16.41,"g":0.3,"r":0.3},{"t":16.57,"g":0.5,"r":0.5},{"t":16.74,"g":0.3,"r":0.3},{"t":16.91,"g":0.6,"r":0.6},{"t":17.04,"g":3.1,"r":3.1},{"t":17.18,"g":1.4,"r":1.4},{"t":17.35,"g":1,"r":1},{"t":17.51,"g":1.1,"r":1.1},{"t":17.68,"g":0.5,"r":0.5},{"t":17.85,"g":0.2,"r":0.2},{"t":18.01,"g":-0.5,"r":-0.5},{"t":18.18,"g":-0.8,"r":-0.8},{"t":18.34,"g":-3,"r":-3},{"t":18.51,"g":-2.5,"r":-2.5},{"t":18.67,"g":-1.2,"r":-1.2},{"t":18.84,"g":-1,"r":-1},{"t":19.01,"g":-0.3,"r":-0.3},{"t":19.17,"g":-0.8,"r":-0.8},{"t":19.34,"g":0.5,"r":0.5},{"t":19.5,"g":0.3,"r":0.3},{"t":19.61,"g":2.5,"r":2.5},{"t":19.75,"g":1.5,"r":1.5},{"t":19.89,"g":1.2,"r":1.2},{"t":20.06,"g":0.5,"r":0.5},{"t":20.22,"g":1,"r":1},{"t":20.39,"g":-0.5,"r":-0.5},{"t":20.55,"g":-0.2,"r":-0.2},{"t":20.72,"g":-0.8,"r":-0.8},{"t":20.88,"g":-2.2,"r":-2.2},{"t":21.05,"g":0.3,"r":0.3},{"t":21.22,"g":1,"r":1},{"t":21.38,"g":0.8,"r":0.8},{"t":21.55,"g":-0.3,"r":-0.3},{"t":21.71,"g":-1.2,"r":-1.2},{"t":21.88,"g":0.3,"r":0.3},{"t":22.04,"g":2.2,"r":2.2},{"t":22.21,"g":1.5,"r":1.5},{"t":22.38,"g":1,"r":1},{"t":22.54,"g":0.2,"r":0.2},{"t":22.71,"g":0.8,"r":0.8},{"t":22.87,"g":0.2,"r":0.2},{"t":23.04,"g":-0.3,"r":-0.3},{"t":23.15,"g":-0.8,"r":-0.8},{"t":23.26,"g":-2.3,"r":-2.3},{"t":23.43,"g":-0.5,"r":-0.5},{"t":23.59,"g":0.3,"r":0.3},{"t":23.76,"g":-0.5,"r":-0.5},{"t":23.92,"g":-1.2,"r":-1.2},{"t":24.09,"g":0,"r":0},{"t":24.25,"g":-0.3,"r":-0.3},{"t":24.42,"g":0.2,"r":0.2},{"t":24.59,"g":0.3,"r":0.3},{"t":24.75,"g":-0.2,"r":-0.2},{"t":24.92,"g":0.4,"r":0.4},{"t":25.08,"g":2,"r":2},{"t":25.25,"g":0.5,"r":0.5},{"t":25.41,"g":-0.5,"r":-0.5},{"t":25.58,"g":0.1,"r":0.1},{"t":25.75,"g":-0.8,"r":-0.8},{"t":25.91,"g":0.3,"r":0.3},{"t":26.08,"g":1.4,"r":1.4},{"t":26.24,"g":0.2,"r":0.2},{"t":26.41,"g":-0.8,"r":-0.8},{"t":26.57,"g":0,"r":0},{"t":26.74,"g":-0.5,"r":-0.5},{"t":26.91,"g":0.3,"r":0.3},{"t":27.07,"g":0.5,"r":0.5},{"t":27.24,"g":1.2,"r":1.2},{"t":27.4,"g":0.8,"r":0.8},{"t":27.57,"g":0,"r":0},{"t":27.73,"g":-0.7,"r":-0.7},{"t":27.9,"g":-0.5,"r":-0.5},{"t":28.07,"g":0,"r":0},{"t":28.23,"g":0.5,"r":0.5},{"t":28.4,"g":0.6,"r":0.6},{"t":28.56,"g":0.1,"r":0.1},{"t":28.73,"g":-0.3,"r":-0.3},{"t":28.9,"g":-0.8,"r":-0.8},{"t":29.06,"g":0.1,"r":0.1},{"t":29.23,"g":0.3,"r":0.3},{"t":29.39,"g":0.5,"r":0.5},{"t":29.56,"g":0.6,"r":0.6},{"t":29.72,"g":0.2,"r":0.2},{"t":29.94,"g":-0.1,"r":-0.1},
{"t":0,"e":0},{"t":2,"e":0},{"t":2.5,"e":0.2},{"t":3,"e":-0.2},{"t":3.5,"e":0.1},{"t":4,"e":0},{"t":4.5,"e":0.2},{"t":5,"e":-0.1},{"t":5.5,"e":0.2},{"t":6,"e":0.1},{"t":6.5,"e":0.2},{"t":7,"e":0.4},{"t":7.5,"e":0.5},{"t":7.79,"e":0.8},{"t":8,"e":0},{"t":8.5,"e":-0.5},{"t":9,"e":-0.8},{"t":9.3,"e":-1.5},{"t":9.5,"e":-1.8},{"t":9.8,"e":-1},{"t":10,"e":-1.5},{"t":10.17,"e":4},{"t":10.3,"e":1},{"t":10.5,"e":-3.5},{"t":10.65,"e":-3.9},{"t":10.9,"e":-2.5},{"t":11.2,"e":0.5},{"t":11.5,"e":0.8},{"t":11.8,"e":1.5},{"t":12.2,"e":1.8},{"t":12.6,"e":1.2},{"t":13,"e":0},{"t":13.3,"e":-1},{"t":13.6,"e":-0.5},{"t":14,"e":0.5},{"t":14.5,"e":1},{"t":15.06,"e":1.6},{"t":15.3,"e":1},{"t":15.7,"e":-0.8},{"t":16,"e":-1},{"t":16.3,"e":0},{"t":16.7,"e":0.3},{"t":17.2,"e":0.1},{"t":17.6,"e":0.2},{"t":18,"e":-0.2},{"t":18.5,"e":-1},{"t":18.9,"e":-0.3},{"t":19.3,"e":0.2},{"t":19.7,"e":0.1},{"t":20.2,"e":-0.3},{"t":20.7,"e":0.4},{"t":21.1,"e":0.9},{"t":21.6,"e":0.3},{"t":22,"e":0},{"t":22.5,"e":0.3},{"t":23,"e":-0.2},{"t":23.5,"e":0},{"t":24,"e":-0.2},{"t":24.5,"e":0.1},{"t":25,"e":0.2},{"t":25.5,"e":-0.1},{"t":26,"e":0.1},{"t":26.5,"e":-0.2},{"t":27,"e":0.1},{"t":27.5,"e":0},{"t":28,"e":-0.1},{"t":28.5,"e":0.1},{"t":29,"e":-0.2},{"t":29.5,"e":0.2},{"t":30,"e":0}],
"er":[{"t":0,"g":0,"r":0},{"t":0.91,"g":0.1,"r":0.1},{"t":1.05,"g":0.3,"r":0.3},{"t":1.13,"g":-0.2,"r":-0.2},{"t":1.24,"g":0.3,"r":0.3},{"t":1.35,"g":-0.4,"r":-0.4},{"t":1.46,"g":0.1,"r":0.1},{"t":1.57,"g":-0.5,"r":-0.5},{"t":1.69,"g":0.2,"r":0.2},{"t":1.8,"g":-0.6,"r":-0.6},{"t":1.91,"g":0,"r":0},{"t":2.02,"g":0.2,"r":0.2},{"t":2.13,"g":-0.3,"r":-0.3},{"t":2.24,"g":-0.9,"r":-0.9},{"t":2.35,"g":-0.7,"r":-0.7},{"t":2.46,"g":-1.1,"r":-1.1},{"t":2.57,"g":-0.5,"r":-0.5},{"t":2.68,"g":0.5,"r":0.5},{"t":2.79,"g":3.1,"r":3.1},{"t":2.9,"g":2.6,"r":2.6},{"t":3.01,"g":3.8,"r":3.8},{"t":3.12,"g":1.5,"r":1.5},{"t":3.2,"g":0.8,"r":0.8},{"t":3.29,"g":1,"r":1},{"t":3.4,"g":-0.5,"r":-0.5},{"t":3.51,"g":0.2,"r":0.2},{"t":3.62,"g":-1.2,"r":-1.2},{"t":3.73,"g":0.3,"r":0.3},{"t":3.84,"g":-0.8,"r":-0.8},{"t":3.95,"g":-0.6,"r":-0.6},{"t":4.06,"g":-1.6,"r":-1.6},{"t":4.17,"g":-3.6,"r":-3.6},{"t":4.28,"g":-1.5,"r":-1.5},{"t":4.39,"g":-0.3,"r":-0.3},{"t":4.5,"g":0.2,"r":0.2},{"t":4.61,"g":-0.5,"r":-0.5},{"t":4.72,"g":-2.1,"r":-2.1},{"t":4.83,"g":-0.5,"r":-0.5},{"t":4.94,"g":0.4,"r":0.4},{"t":5.06,"g":0.3,"r":0.3},{"t":5.22,"g":1,"r":1},{"t":5.39,"g":2.4,"r":2.4},{"t":5.5,"g":1.6,"r":1.6},{"t":5.61,"g":2,"r":2},{"t":5.72,"g":1.2,"r":1.2},{"t":5.83,"g":1.7,"r":1.7},{"t":5.94,"g":1,"r":1},{"t":6.05,"g":0.8,"r":0.8},{"t":6.16,"g":1.1,"r":1.1},{"t":6.27,"g":0.2,"r":0.2},{"t":6.38,"g":1.2,"r":1.2},{"t":6.49,"g":0,"r":0},{"t":6.6,"g":-1.5,"r":-1.5},{"t":6.71,"g":-3,"r":-3},{"t":6.82,"g":-1.2,"r":-1.2},{"t":6.93,"g":-0.5,"r":-0.5},{"t":7.04,"g":-1,"r":-1},{"t":7.15,"g":-0.6,"r":-0.6},{"t":7.27,"g":-1.6,"r":-1.6},{"t":7.38,"g":-2,"r":-2},{"t":7.49,"g":-0.8,"r":-0.8},{"t":7.6,"g":-0.9,"r":-0.9},{"t":7.71,"g":-0.5,"r":-0.5},{"t":7.82,"g":-0.2,"r":-0.2},{"t":7.93,"g":0.2,"r":0.2},{"t":8.04,"g":2.6,"r":2.9},{"t":8.15,"g":1.5,"r":1.5},{"t":8.26,"g":0.8,"r":0.8},{"t":8.37,"g":1.2,"r":1.2},{"t":8.48,"g":0.6,"r":0.6},{"t":8.59,"g":0.9,"r":0.9},{"t":8.7,"g":1.2,"r":1.2},{"t":8.81,"g":0.3,"r":0.3},{"t":8.92,"g":-0.6,"r":-0.6},{"t":9.03,"g":-1.2,"r":-1.2},{"t":9.14,"g":-2.3,"r":-2.3},{"t":9.25,"g":-1,"r":-1},{"t":9.36,"g":-0.8,"r":-0.8},{"t":9.48,"g":-0.3,"r":-0.3},{"t":9.59,"g":-1,"r":-1},{"t":9.7,"g":-0.5,"r":-0.5},{"t":9.81,"g":-0.3,"r":-0.3},{"t":9.92,"g":-0.6,"r":-0.6},{"t":10.03,"g":0.2,"r":0.2},{"t":10.14,"g":0.4,"r":0.4},{"t":10.25,"g":0.8,"r":0.8},{"t":10.36,"g":2.2,"r":2.2},{"t":10.47,"g":0.5,"r":0.5},{"t":10.58,"g":0.8,"r":0.8},{"t":10.69,"g":0.3,"r":0.3},{"t":10.8,"g":0.5,"r":0.5},{"t":10.91,"g":0,"r":0},{"t":11.02,"g":0.6,"r":0.6},{"t":11.13,"g":-0.3,"r":-0.3},{"t":11.24,"g":0.3,"r":0.3},{"t":11.35,"g":-2.3,"r":-2.3},{"t":11.46,"g":-0.5,"r":-0.5},{"t":11.57,"g":0.2,"r":0.2},{"t":11.68,"g":-0.4,"r":-0.4},{"t":11.8,"g":0.4,"r":0.4},{"t":11.91,"g":0,"r":0},{"t":12.02,"g":0.4,"r":0.4},{"t":12.13,"g":1.9,"r":1.9},{"t":12.24,"g":1,"r":1},{"t":12.35,"g":0.8,"r":0.8},{"t":12.46,"g":0,"r":0},{"t":12.57,"g":-0.5,"r":-0.5},{"t":12.68,"g":0.3,"r":0.3},{"t":12.79,"g":-0.8,"r":-0.8},{"t":12.9,"g":-1,"r":-1.8},{"t":13.01,"g":0,"r":0},{"t":13.12,"g":0.3,"r":0.8},{"t":13.29,"g":-0.3,"r":-0.3},{"t":13.45,"g":0.2,"r":0.6},{"t":13.8,"g":-0.3,"r":-0.3},{"t":14.3,"g":0.5,"r":0.5},{"t":14.8,"g":-0.3,"r":-0.3},{"t":15.3,"g":0.4,"r":0.4},{"t":15.8,"g":-0.2,"r":-0.2},{"t":16.3,"g":0.4,"r":0.4},{"t":16.9,"g":-0.2,"r":-0.2},{"t":17.4,"g":0.2,"r":0.2},{"t":17.9,"g":-0.6,"r":-0.6},{"t":18.5,"g":0.3,"r":0.3},{"t":19,"g":-0.1,"r":-0.1},{"t":19.5,"g":0.35,"r":0.35},{"t":20,"g":-0.1,"r":-0.1},{"t":20.5,"g":0.4,"r":0.4},{"t":21,"g":-0.5,"r":-0.5},{"t":21.5,"g":0.5,"r":0.5},{"t":22,"g":-0.4,"r":-0.4},{"t":22.6,"g":0.4,"r":0.4},{"t":23.1,"g":-0.3,"r":-0.3},{"t":23.6,"g":0.3,"r":0.3},{"t":24.2,"g":-0.2,"r":-0.2},{"t":24.7,"g":0.2,"r":0.2},{"t":25.3,"g":-0.15,"r":-0.15},{"t":25.8,"g":0.15,"r":0.15},{"t":26.4,"g":-0.1,"r":-0.1},{"t":26.9,"g":0.1,"r":0.1},{"t":27.5,"g":-0.08,"r":-0.08},{"t":28,"g":0.05,"r":0.05},{"t":28.6,"g":-0.05,"r":-0.05},{"t":29.2,"g":0.03,"r":0.03},{"t":30,"g":0,"r":0},
{"t":0,"e":0},{"t":1,"e":0},{"t":1.2,"e":0.2},{"t":1.5,"e":-0.3},{"t":1.8,"e":-0.4},{"t":2.1,"e":-0.2},{"t":2.4,"e":-0.5},{"t":2.6,"e":0.2},{"t":2.79,"e":2.8},{"t":2.9,"e":2},{"t":3.05,"e":2.2},{"t":3.3,"e":0.5},{"t":3.6,"e":0.4},{"t":3.9,"e":-0.2},{"t":4.2,"e":-0.8},{"t":4.5,"e":-0.3},{"t":4.8,"e":-0.6},{"t":5.1,"e":0.5},{"t":5.5,"e":0.4},{"t":6,"e":0.3},{"t":6.5,"e":0.2},{"t":6.8,"e":-0.2},{"t":7.1,"e":-0.5},{"t":7.4,"e":-0.8},{"t":7.8,"e":0},{"t":8.2,"e":0.4},{"t":8.6,"e":0.6},{"t":9,"e":0.2},{"t":9.4,"e":-0.3},{"t":9.8,"e":0.1},{"t":10.2,"e":-0.2},{"t":10.6,"e":0.1},{"t":11,"e":0.4},{"t":11.4,"e":-0.2},{"t":11.8,"e":0.1},{"t":12.2,"e":0.4},{"t":12.6,"e":0},{"t":13,"e":-0.3},{"t":13.4,"e":0.1},{"t":13.8,"e":-0.2},{"t":14.3,"e":0.3},{"t":14.8,"e":-0.2},{"t":15.3,"e":0.2},{"t":15.8,"e":-0.1},{"t":16.3,"e":0.2},{"t":16.9,"e":-0.1},{"t":17.4,"e":0.1},{"t":17.9,"e":-0.3},{"t":18.5,"e":0.15},{"t":19,"e":-0.05},{"t":19.5,"e":0.2},{"t":20,"e":-0.05},{"t":20.5,"e":0.2},{"t":21,"e":-0.25},{"t":21.5,"e":0.25},{"t":22,"e":-0.2},{"t":22.6,"e":0.2},{"t":23.1,"e":-0.15},{"t":23.6,"e":0.15},{"t":24.2,"e":-0.1},{"t":24.7,"e":0.1},{"t":25.3,"e":-0.08},{"t":25.8,"e":0.08},{"t":26.4,"e":-0.05},{"t":27,"e":0.05},{"t":28,"e":0},{"t":30,"e":0}],
"sy":[{"t":0,"g":0,"r":0},{"t":0.2,"g":0.1,"r":0.1},{"t":0.4,"g":-0.1,"r":-0.1},{"t":0.6,"g":0.15,"r":0.15},{"t":0.8,"g":-0.2,"r":-0.2},{"t":1,"g":0.1,"r":0.1},{"t":1.2,"g":-0.2,"r":-0.2},{"t":1.4,"g":0.2,"r":0.2},{"t":1.6,"g":-0.3,"r":-0.3},{"t":1.8,"g":0.3,"r":0.3},{"t":2,"g":-0.3,"r":-0.3},{"t":2.2,"g":0.4,"r":0.4},{"t":2.4,"g":-0.5,"r":-0.5},{"t":2.6,"g":0.5,"r":0.5},{"t":2.8,"g":-0.4,"r":-0.4},{"t":3,"g":0.4,"r":0.4},{"t":3.2,"g":-0.3,"r":-0.3},{"t":3.31,"g":0,"r":0},{"t":3.45,"g":-2,"r":-2},{"t":3.59,"g":-4.5,"r":-4.5},{"t":3.7,"g":-3,"r":-3},{"t":3.81,"g":4,"r":4},{"t":3.92,"g":0.5,"r":0.5},{"t":4.03,"g":-4.6,"r":-4.6},{"t":4.14,"g":0,"r":0},{"t":4.25,"g":5.2,"r":5.2},{"t":4.36,"g":1,"r":1},{"t":4.45,"g":-2.8,"r":-2.8},{"t":4.56,"g":3.5,"r":3.5},{"t":4.67,"g":-0.5,"r":-0.5},{"t":4.78,"g":2.1,"r":2.1},{"t":4.89,"g":0.5,"r":0.5},{"t":5,"g":-1.2,"r":-1.2},{"t":5.11,"g":1.3,"r":1.3},{"t":5.22,"g":-0.8,"r":-0.8},{"t":5.33,"g":1.5,"r":1.5},{"t":5.44,"g":-1.5,"r":-1.5},{"t":5.55,"g":0.8,"r":0.8},{"t":5.66,"g":-3.4,"r":-3.4},{"t":5.77,"g":-0.5,"r":-0.5},{"t":5.88,"g":-1.3,"r":-1.3},{"t":5.99,"g":0.5,"r":0.5},{"t":6.1,"g":-2.2,"r":-2.2},{"t":6.22,"g":0.3,"r":0.3},{"t":6.33,"g":-1,"r":-1},{"t":6.44,"g":0.8,"r":0.8},{"t":6.55,"g":-1.5,"r":-1.5},{"t":6.66,"g":0.5,"r":0.5},{"t":6.77,"g":-2.5,"r":-2.5},{"t":6.88,"g":0.8,"r":0.8},{"t":7.02,"g":4,"r":4},{"t":7.13,"g":2.5,"r":2.5},{"t":7.24,"g":1.3,"r":1.3},{"t":7.35,"g":0.5,"r":0.5},{"t":7.46,"g":1.4,"r":1.4},{"t":7.6,"g":0.2,"r":0.2},{"t":7.73,"g":0.5,"r":0.5},{"t":7.85,"g":3,"r":3},{"t":7.96,"g":-0.8,"r":-0.8},{"t":8.07,"g":-1.8,"r":-1.8},{"t":8.18,"g":-0.3,"r":-0.3},{"t":8.29,"g":-2.1,"r":-2.1},{"t":8.4,"g":-2.5,"r":-2.5},{"t":8.51,"g":-0.8,"r":-0.8},{"t":8.62,"g":-1.5,"r":-1.5},{"t":8.73,"g":0,"r":0},{"t":8.84,"g":-1.2,"r":-1.2},{"t":8.95,"g":-2.3,"r":-2.3},{"t":9.06,"g":-0.5,"r":-0.5},{"t":9.17,"g":0.2,"r":0.2},{"t":9.28,"g":-0.8,"r":-0.8},{"t":9.39,"g":0.5,"r":0.5},{"t":9.5,"g":2.6,"r":2.6},{"t":9.61,"g":1.2,"r":1.2},{"t":9.72,"g":0.5,"r":0.5},{"t":9.83,"g":1.1,"r":1.1},{"t":9.94,"g":0.3,"r":0.3},{"t":10.06,"g":0.8,"r":0.8},{"t":10.17,"g":-0.3,"r":-0.3},{"t":10.28,"g":0.5,"r":0.5},{"t":10.39,"g":-0.5,"r":-0.5},{"t":10.5,"g":-1,"r":-1},{"t":10.61,"g":-1.5,"r":-1.5},{"t":10.72,"g":-2.5,"r":-2.5},{"t":10.83,"g":-3,"r":-3},{"t":10.94,"g":-1.5,"r":-1.5},{"t":11.05,"g":-1.2,"r":-1.2},{"t":11.16,"g":0.2,"r":0.2},{"t":11.27,"g":-1,"r":-1},{"t":11.38,"g":-1.5,"r":-1.5},{"t":11.49,"g":-1.1,"r":-1.1},{"t":11.6,"g":-0.5,"r":-0.5},{"t":11.71,"g":-0.9,"r":-0.9},{"t":11.82,"g":-0.3,"r":-0.3},{"t":11.93,"g":0.5,"r":0.5},{"t":12.04,"g":2.6,"r":2.6},{"t":12.15,"g":1.5,"r":1.5},{"t":12.27,"g":1.1,"r":1.1},{"t":12.38,"g":1.3,"r":1.3},{"t":12.49,"g":0.9,"r":0.9},{"t":12.6,"g":1.2,"r":1.2},{"t":12.71,"g":0.6,"r":0.6},{"t":12.82,"g":0.9,"r":0.9},{"t":12.93,"g":0.2,"r":0.2},{"t":13.04,"g":-0.5,"r":-0.5},{"t":13.15,"g":-1.2,"r":-1.2},{"t":13.23,"g":-2.5,"r":-2.5},{"t":13.31,"g":-1,"r":-1},{"t":13.43,"g":-0.6,"r":-0.6},{"t":13.54,"g":-0.3,"r":-0.3},{"t":13.65,"g":0.3,"r":0.3},{"t":13.76,"g":-0.5,"r":-0.5},{"t":13.87,"g":-0.8,"r":-0.8},{"t":13.98,"g":0.2,"r":0.2},{"t":14.09,"g":0.9,"r":0.9},{"t":14.2,"g":0.5,"r":0.5},{"t":14.31,"g":1.7,"r":1.7},{"t":14.42,"g":1.2,"r":2.4},{"t":14.53,"g":0.8,"r":0.8},{"t":14.64,"g":0.5,"r":0.5},{"t":14.75,"g":1,"r":1},{"t":14.86,"g":0.6,"r":0.6},{"t":14.97,"g":0.7,"r":0.7},{"t":15.08,"g":-0.3,"r":-0.3},{"t":15.19,"g":-1.2,"r":-1.2},{"t":15.3,"g":-2.1,"r":-2.1},{"t":15.41,"g":-0.8,"r":-0.8},{"t":15.52,"g":0.3,"r":0.3},{"t":15.64,"g":-0.2,"r":-0.2},{"t":15.75,"g":0.2,"r":0.2},{"t":15.86,"g":-0.6,"r":-0.6},{"t":15.97,"g":-0.1,"r":-0.1},{"t":16.08,"g":1.5,"r":1.5},{"t":16.19,"g":1.2,"r":1.2},{"t":16.3,"g":0.5,"r":0.5},{"t":16.41,"g":0.6,"r":2.1},{"t":16.52,"g":-0.3,"r":-0.3},{"t":16.63,"g":-0.5,"r":-0.5},{"t":16.74,"g":0.2,"r":0.2},{"t":16.85,"g":-1.8,"r":-1.8},{"t":16.96,"g":-1,"r":-2.3},{"t":17.07,"g":-0.3,"r":-0.3},{"t":17.18,"g":0.3,"r":0.3},{"t":17.29,"g":0.8,"r":0.8},{"t":17.4,"g":0.2,"r":0.2},{"t":17.57,"g":0.6,"r":0.6},{"t":17.73,"g":0,"r":0},{"t":17.9,"g":0.3,"r":1.5},{"t":18.07,"g":-0.4,"r":-1.2},{"t":18.23,"g":0.2,"r":0.2},{"t":18.4,"g":0.5,"r":0.5},{"t":18.56,"g":0.1,"r":0.6},{"t":18.73,"g":0.3,"r":0.3},{"t":18.9,"g":-0.2,"r":-0.2},{"t":19.06,"g":0.1,"r":0.4},{"t":19.23,"g":-0.3,"r":-0.3},{"t":19.39,"g":0.2,"r":0.2},{"t":19.56,"g":-0.1,"r":-0.1},{"t":19.72,"g":0.2,"r":0.2},{"t":19.89,"g":-0.3,"r":-0.3},{"t":20.06,"g":-0.2,"r":-0.2},{"t":20.22,"g":0.2,"r":0.2},{"t":20.39,"g":0.5,"r":0.5},{"t":20.55,"g":0.1,"r":0.1},{"t":20.72,"g":0.3,"r":0.3},{"t":20.88,"g":-0.2,"r":-0.2},{"t":21.05,"g":0.1,"r":0.1},{"t":21.27,"g":-0.2,"r":-0.2},{"t":21.49,"g":0.4,"r":0.4},{"t":21.71,"g":0.1,"r":0.1},{"t":21.93,"g":-0.1,"r":-0.1},{"t":22.15,"g":0.2,"r":0.2},{"t":22.38,"g":-0.2,"r":-0.2},{"t":22.6,"g":0.2,"r":0.2},{"t":22.82,"g":-0.1,"r":-0.1},{"t":23.04,"g":0.2,"r":0.2},{"t":23.26,"g":-0.3,"r":-0.3},{"t":23.48,"g":0.1,"r":0.1},{"t":23.7,"g":0.2,"r":0.2},{"t":23.92,"g":-0.1,"r":-0.1},{"t":24.14,"g":0.2,"r":0.2},{"t":24.36,"g":-0.1,"r":-0.1},{"t":24.59,"g":0,"r":0},{"t":24.86,"g":-0.1,"r":-0.1},{"t":25.14,"g":0,"r":0},{"t":25.55,"g":0.2,"r":0.2},{"t":25.83,"g":-0.1,"r":-0.1},{"t":26.24,"g":0.1,"r":0.1},{"t":26.66,"g":-0.1,"r":-0.1},{"t":27.21,"g":0.1,"r":0.1},{"t":27.76,"g":-0.05,"r":-0.05},{"t":28.45,"g":0.05,"r":0.05},{"t":29.28,"g":0,"r":0},{"t":30,"g":0,"r":0},
{"t":0,"e":0},{"t":0.4,"e":-0.1},{"t":0.8,"e":0.2},{"t":1.2,"e":-0.2},{"t":1.6,"e":0.3},{"t":2,"e":-0.3},{"t":2.35,"e":1},{"t":2.5,"e":-0.5},{"t":2.8,"e":0.4},{"t":3.1,"e":-0.3},{"t":3.31,"e":0},{"t":3.45,"e":-2},{"t":3.59,"e":-4},{"t":3.7,"e":-2.5},{"t":3.81,"e":3.8},{"t":3.92,"e":0.5},{"t":4.03,"e":-4.9},{"t":4.14,"e":0},{"t":4.25,"e":4.5},{"t":4.36,"e":1},{"t":4.45,"e":-2.8},{"t":4.56,"e":3},{"t":4.67,"e":-0.5},{"t":4.78,"e":2.1},{"t":5,"e":-1},{"t":5.2,"e":1},{"t":5.44,"e":-1.5},{"t":5.66,"e":-2.5},{"t":5.9,"e":-1},{"t":6.1,"e":-2},{"t":6.4,"e":0.7},{"t":6.7,"e":-2.5},{"t":7,"e":0.5},{"t":7.3,"e":-0.5},{"t":7.6,"e":-0.3},{"t":7.9,"e":0.8},{"t":8.2,"e":-0.5},{"t":8.5,"e":0.2},{"t":8.9,"e":-0.3},{"t":9.3,"e":-0.5},{"t":9.6,"e":0.5},{"t":9.9,"e":-0.3},{"t":10.2,"e":0.5},{"t":10.5,"e":0.8},{"t":10.9,"e":1.2},{"t":11.3,"e":-0.3},{"t":11.7,"e":0},{"t":12.1,"e":0.5},{"t":12.5,"e":-0.2},{"t":12.9,"e":0.2},{"t":13.2,"e":0.3},{"t":13.5,"e":-0.3},{"t":14,"e":0.5},{"t":14.5,"e":0},{"t":15,"e":0.1},{"t":15.5,"e":-0.1},{"t":16,"e":0},{"t":16.5,"e":-0.1},{"t":17,"e":0.1},{"t":17.5,"e":-0.1},{"t":18,"e":0},{"t":19,"e":0.1},{"t":20,"e":-0.1},{"t":21,"e":0.05},{"t":22,"e":0},{"t":30,"e":0}]
},
"concat":[
{"data":{"name":"nh"},"width":362,"height":116,"title":{"text":"Newhall (1994)","offset":-19,"dx":-7},
"transform":[{"fold":["g","r","e"],"as":["s","v"]},{"filter":"isValid(datum.v)"}],
"layer":[
{"mark":{"type":"line","strokeWidth":1.2,"clip":true},"encoding":{
"x":{"field":"t","type":"quantitative","scale":{"domain":[0,30],"nice":false},"axis":{"values":[0,5,10,15,20,25,30],"labels":false,"title":null,"tickSize":4}},
"y":{"field":"v","type":"quantitative","scale":{"domain":[-4,4],"nice":false},"axis":{"values":[-3,0,3],"labelExpr":"datum.value","title":null,"tickSize":5,"labelPadding":4}},
"color":{"field":"s","type":"nominal","scale":{"domain":["g","r","e"],"range":["#000000","#ff0000","#0000ff"]},"legend":{"title":null,"labelExpr":"datum.value=='g'?'G-C Model':datum.value=='r'?'Improved G-C Model by Ren et al.':'Equivalent Linear Model'"}},
"strokeDash":{"field":"s","type":"nominal","scale":{"domain":["g","r","e"],"range":[[1,0],[1,3],[4,3]]},"legend":{"title":null,"labelExpr":"datum.value=='g'?'G-C Model':datum.value=='r'?'Improved G-C Model by Ren et al.':'Equivalent Linear Model'"}}}},
{"mark":{"type":"line","opacity":0},"encoding":{
"x":{"field":"t","type":"quantitative","axis":{"orient":"top","values":[0,5,10,15,20,25,30],"labels":false,"title":null,"tickSize":-4}},
"y":{"field":"v","type":"quantitative","axis":{"orient":"right","values":[-3,0,3],"labels":false,"title":null,"tickSize":-4}}}}],
"resolve":{"axis":{"x":"independent","y":"independent"}}},
{"data":{"name":"ec"},"width":362,"height":116,"title":{"text":"El-Centro (1940)","offset":-17,"dx":-10},
"transform":[{"fold":["g","r","e"],"as":["s","v"]},{"filter":"isValid(datum.v)"}],
"layer":[
{"mark":{"type":"line","strokeWidth":1.2,"clip":true},"encoding":{
"x":{"field":"t","type":"quantitative","scale":{"domain":[0,30],"nice":false},"axis":{"values":[0,5,10,15,20,25,30],"labels":false,"title":null,"tickSize":4}},
"y":{"field":"v","type":"quantitative","scale":{"domain":[-4,4],"nice":false},"axis":{"values":[-3,0,3],"labels":false,"title":null,"tickSize":5}},
"color":{"field":"s","type":"nominal","scale":{"domain":["g","r","e"],"range":["#000000","#ff0000","#0000ff"]},"legend":{"title":null,"labelExpr":"datum.value=='g'?'G-C Model':datum.value=='r'?'Improved G-C Model by Ren et al.':'Equivalent Linear Model'"}},
"strokeDash":{"field":"s","type":"nominal","scale":{"domain":["g","r","e"],"range":[[1,0],[1,3],[4,3]]},"legend":{"title":null,"labelExpr":"datum.value=='g'?'G-C Model':datum.value=='r'?'Improved G-C Model by Ren et al.':'Equivalent Linear Model'"}}}},
{"mark":{"type":"line","opacity":0},"encoding":{
"x":{"field":"t","type":"quantitative","axis":{"orient":"top","values":[0,5,10,15,20,25,30],"labels":false,"title":null,"tickSize":-4}},
"y":{"field":"v","type":"quantitative","axis":{"orient":"right","values":[-3,0,3],"labels":false,"title":null,"tickSize":-4}}}}],
"resolve":{"axis":{"x":"independent","y":"independent"}}},
{"data":{"name":"ri"},"width":362,"height":116,"title":{"text":"Rinaldi (1994)","offset":-23,"dx":-11},
"transform":[{"fold":["g","r","e"],"as":["s","v"]},{"filter":"isValid(datum.v)"}],
"layer":[
{"mark":{"type":"line","strokeWidth":1.2,"clip":true},"encoding":{
"x":{"field":"t","type":"quantitative","scale":{"domain":[0,30],"nice":false},"axis":{"values":[0,5,10,15,20,25,30],"labels":false,"title":null,"tickSize":4}},
"y":{"field":"v","type":"quantitative","scale":{"domain":[-4,4],"nice":false},"axis":{"values":[-3,0,3],"labelExpr":"datum.value","title":"Top floor acceleration (m/s²)","titleY":117,"titlePadding":4,"tickSize":5,"labelPadding":4}},
"color":{"field":"s","type":"nominal","scale":{"domain":["g","r","e"],"range":["#000000","#ff0000","#0000ff"]},"legend":{"title":null,"labelExpr":"datum.value=='g'?'G-C Model':datum.value=='r'?'Improved G-C Model by Ren et al.':'Equivalent Linear Model'"}},
"strokeDash":{"field":"s","type":"nominal","scale":{"domain":["g","r","e"],"range":[[1,0],[1,3],[4,3]]},"legend":{"title":null,"labelExpr":"datum.value=='g'?'G-C Model':datum.value=='r'?'Improved G-C Model by Ren et al.':'Equivalent Linear Model'"}}}},
{"mark":{"type":"line","opacity":0},"encoding":{
"x":{"field":"t","type":"quantitative","axis":{"orient":"top","values":[0,5,10,15,20,25,30],"labels":false,"title":null,"tickSize":-4}},
"y":{"field":"v","type":"quantitative","axis":{"orient":"right","values":[-3,0,3],"labels":false,"title":null,"tickSize":-4}}}}],
"resolve":{"axis":{"x":"independent","y":"independent"}}},
{"data":{"name":"ko"},"width":362,"height":116,"title":{"text":"Kobe (1995)","offset":-23,"dx":-10},
"transform":[{"fold":["g","r","e"],"as":["s","v"]},{"filter":"isValid(datum.v)"}],
"layer":[
{"mark":{"type":"line","strokeWidth":1.2,"clip":true},"encoding":{
"x":{"field":"t","type":"quantitative","scale":{"domain":[0,30],"nice":false},"axis":{"values":[0,5,10,15,20,25,30],"labels":false,"title":null,"tickSize":4}},
"y":{"field":"v","type":"quantitative","scale":{"domain":[-4,4],"nice":false},"axis":{"values":[-3,0,3],"labels":false,"title":null,"tickSize":5}},
"color":{"field":"s","type":"nominal","scale":{"domain":["g","r","e"],"range":["#000000","#ff0000","#0000ff"]},"legend":{"title":null,"labelExpr":"datum.value=='g'?'G-C Model':datum.value=='r'?'Improved G-C Model by Ren et al.':'Equivalent Linear Model'"}},
"strokeDash":{"field":"s","type":"nominal","scale":{"domain":["g","r","e"],"range":[[1,0],[1,3],[4,3]]},"legend":{"title":null,"labelExpr":"datum.value=='g'?'G-C Model':datum.value=='r'?'Improved G-C Model by Ren et al.':'Equivalent Linear Model'"}}}},
{"mark":{"type":"line","opacity":0},"encoding":{
"x":{"field":"t","type":"quantitative","axis":{"orient":"top","values":[0,5,10,15,20,25,30],"labels":false,"title":null,"tickSize":-4}},
"y":{"field":"v","type":"quantitative","axis":{"orient":"right","values":[-3,0,3],"labels":false,"title":null,"tickSize":-4}}}}],
"resolve":{"axis":{"x":"independent","y":"independent"}}},
{"data":{"name":"ji"},"width":362,"height":116,"title":{"text":"Jiji (1999)","offset":-20,"dx":-9},
"transform":[{"fold":["g","r","e"],"as":["s","v"]},{"filter":"isValid(datum.v)"}],
"layer":[
{"mark":{"type":"line","strokeWidth":1.2,"clip":true},"encoding":{
"x":{"field":"t","type":"quantitative","scale":{"domain":[0,30],"nice":false},"axis":{"values":[0,5,10,15,20,25,30],"labels":false,"title":null,"tickSize":4}},
"y":{"field":"v","type":"quantitative","scale":{"domain":[-4,4],"nice":false},"axis":{"values":[-3,0,3],"labelExpr":"datum.value","title":null,"tickSize":5,"labelPadding":4}},
"color":{"field":"s","type":"nominal","scale":{"domain":["g","r","e"],"range":["#000000","#ff0000","#0000ff"]},"legend":{"title":null,"labelExpr":"datum.value=='g'?'G-C Model':datum.value=='r'?'Improved G-C Model by Ren et al.':'Equivalent Linear Model'"}},
"strokeDash":{"field":"s","type":"nominal","scale":{"domain":["g","r","e"],"range":[[1,0],[1,3],[4,3]]},"legend":{"title":null,"labelExpr":"datum.value=='g'?'G-C Model':datum.value=='r'?'Improved G-C Model by Ren et al.':'Equivalent Linear Model'"}}}},
{"mark":{"type":"line","opacity":0},"encoding":{
"x":{"field":"t","type":"quantitative","axis":{"orient":"top","values":[0,5,10,15,20,25,30],"labels":false,"title":null,"tickSize":-4}},
"y":{"field":"v","type":"quantitative","axis":{"orient":"right","values":[-3,0,3],"labels":false,"title":null,"tickSize":-4}}}}],
"resolve":{"axis":{"x":"independent","y":"independent"}}},
{"data":{"name":"er"},"width":362,"height":116,"title":{"text":"Erzikan (1995)","offset":-21,"dx":-11},
"transform":[{"fold":["g","r","e"],"as":["s","v"]},{"filter":"isValid(datum.v)"}],
"layer":[
{"mark":{"type":"line","strokeWidth":1.2,"clip":true},"encoding":{
"x":{"field":"t","type":"quantitative","scale":{"domain":[0,30],"nice":false},"axis":{"values":[0,5,10,15,20,25,30],"labelExpr":"datum.value % 10 == 0 ? datum.label : ''","title":"Time (sec)","titlePadding":-5,"tickSize":4,"labelPadding":0}},
"y":{"field":"v","type":"quantitative","scale":{"domain":[-4,4],"nice":false},"axis":{"values":[-3,0,3],"labels":false,"title":null,"tickSize":5}},
"color":{"field":"s","type":"nominal","scale":{"domain":["g","r","e"],"range":["#000000","#ff0000","#0000ff"]},"legend":{"title":null,"labelExpr":"datum.value=='g'?'G-C Model':datum.value=='r'?'Improved G-C Model by Ren et al.':'Equivalent Linear Model'"}},
"strokeDash":{"field":"s","type":"nominal","scale":{"domain":["g","r","e"],"range":[[1,0],[1,3],[4,3]]},"legend":{"title":null,"labelExpr":"datum.value=='g'?'G-C Model':datum.value=='r'?'Improved G-C Model by Ren et al.':'Equivalent Linear Model'"}}}},
{"mark":{"type":"line","opacity":0},"encoding":{
"x":{"field":"t","type":"quantitative","axis":{"orient":"top","values":[0,5,10,15,20,25,30],"labels":false,"title":null,"tickSize":-4}},
"y":{"field":"v","type":"quantitative","axis":{"orient":"right","values":[-3,0,3],"labels":false,"title":null,"tickSize":-4}}}}],
"resolve":{"axis":{"x":"independent","y":"independent"}}},
{"data":{"name":"sy"},"width":362,"height":116,"title":{"text":"Sylmar (1994)","offset":-22,"dx":-10},
"transform":[{"fold":["g","r","e"],"as":["s","v"]},{"filter":"isValid(datum.v)"}],
"layer":[
{"mark":{"type":"line","strokeWidth":1.2,"clip":true},"encoding":{
"x":{"field":"t","type":"quantitative","scale":{"domain":[0,30],"nice":false},"axis":{"values":[0,5,10,15,20,25,30],"labelExpr":"datum.value % 10 == 0 ? datum.label : ''","title":"Time (sec)","titlePadding":-5,"tickSize":4,"labelPadding":0}},
"y":{"field":"v","type":"quantitative","scale":{"domain":[-5.35,5.4],"nice":false},"axis":{"values":[-3,0,3],"labelExpr":"datum.value","title":null,"tickSize":5,"labelPadding":4}},
"color":{"field":"s","type":"nominal","scale":{"domain":["g","r","e"],"range":["#000000","#ff0000","#0000ff"]},"legend":{"title":null,"labelExpr":"datum.value=='g'?'G-C Model':datum.value=='r'?'Improved G-C Model by Ren et al.':'Equivalent Linear Model'"}},
"strokeDash":{"field":"s","type":"nominal","scale":{"domain":["g","r","e"],"range":[[1,0],[1,3],[4,3]]},"legend":{"title":null,"labelExpr":"datum.value=='g'?'G-C Model':datum.value=='r'?'Improved G-C Model by Ren et al.':'Equivalent Linear Model'"}}}},
{"mark":{"type":"line","opacity":0},"encoding":{
"x":{"field":"t","type":"quantitative","axis":{"orient":"top","values":[0,5,10,15,20,25,30],"labels":false,"title":null,"tickSize":-4}},
"y":{"field":"v","type":"quantitative","axis":{"orient":"right","values":[-4,0,4],"labels":false,"title":null,"tickSize":-4}}}}],
"resolve":{"axis":{"x":"independent","y":"independent"}}}
],
"config":{
"view":{"stroke":"#000000","strokeWidth":1},
"axis":{"domain":false,"grid":false,"tickColor":"#000000","tickWidth":1,"labelFont":"Liberation Sans","labelFontSize":19,"labelColor":"#000000","titleFont":"Liberation Serif","titleFontSize":20,"titleFontWeight":"normal","titleColor":"#000000"},
"title":{"font":"Liberation Serif","fontSize":17,"fontWeight":"normal","color":"#000000","anchor":"end","orient":"top","baseline":"alphabetic","frame":"group"},
"legend":{"orient":"none","legendX":399.5,"legendY":392.5,"symbolType":"M-4,0H4","symbolSize":121,"symbolStrokeWidth":1.3,"labelFont":"Liberation Serif","labelFontSize":19,"labelColor":"#000000","labelOffset":17.5,"rowPadding":4,"padding":0,"labelLimit":400}
}
}
